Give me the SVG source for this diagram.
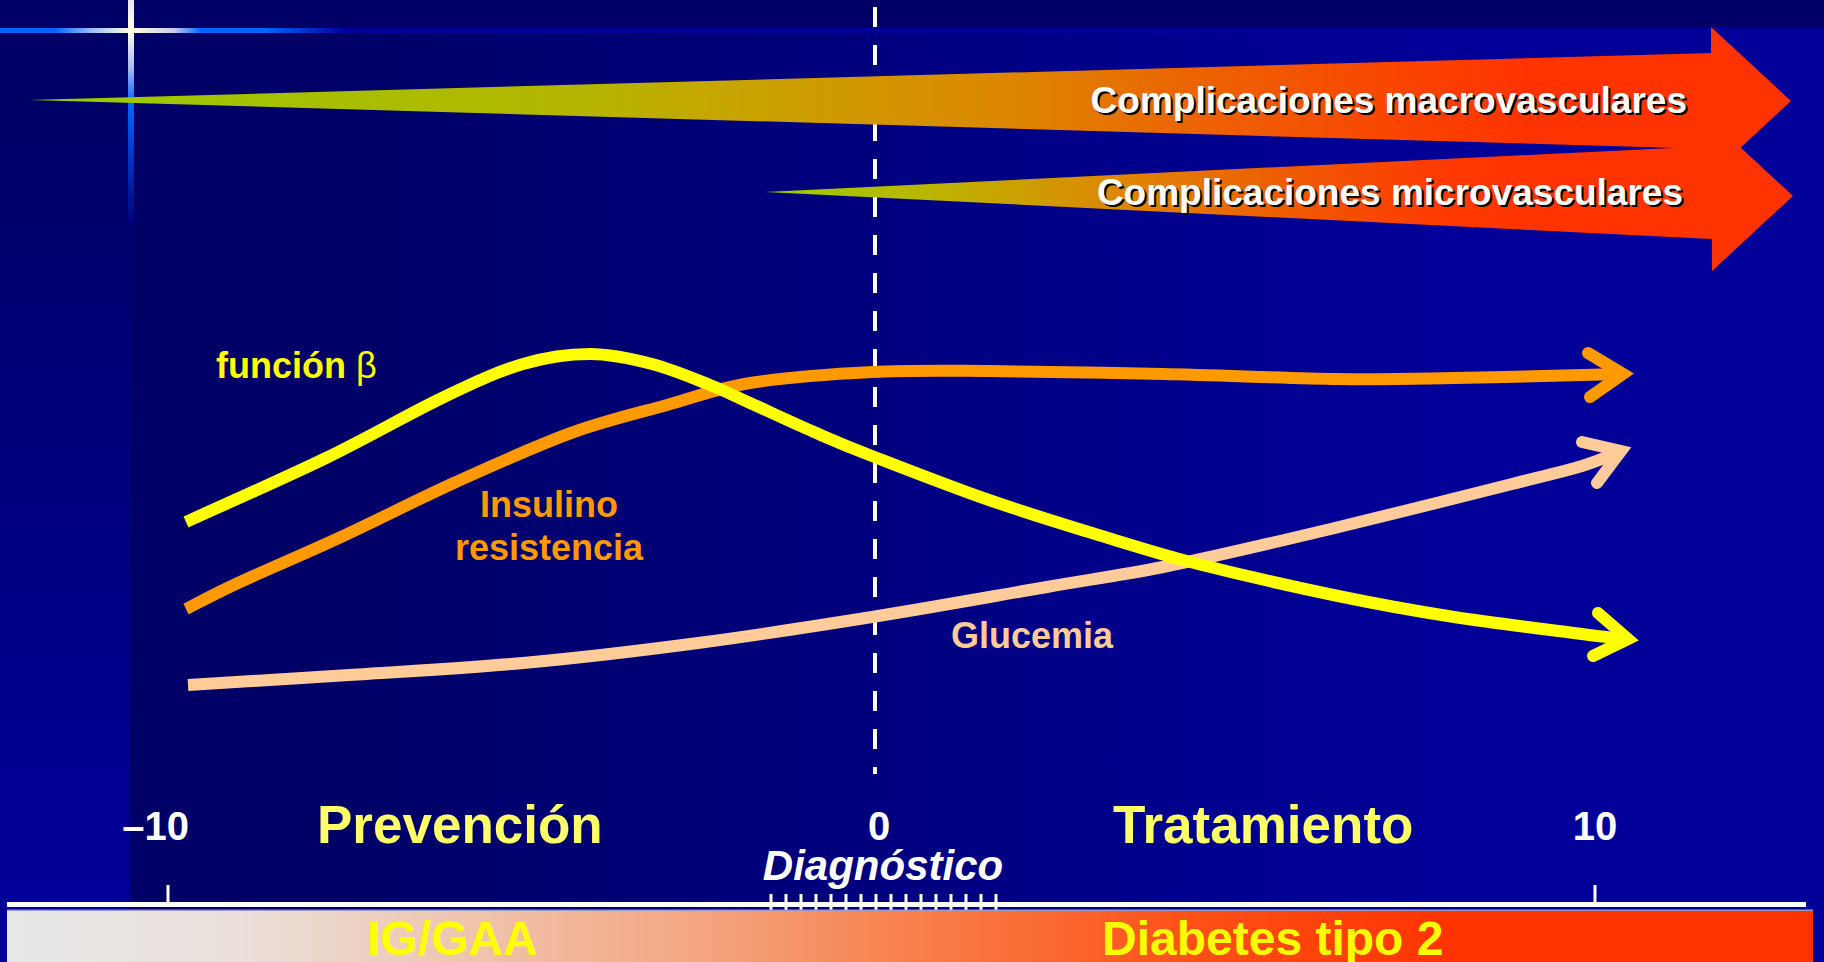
<svg xmlns="http://www.w3.org/2000/svg" width="1824" height="962" viewBox="0 0 1824 962">
<defs>
<linearGradient id="gMain" gradientUnits="userSpaceOnUse" x1="130" y1="0" x2="1450" y2="0">
<stop offset="0" stop-color="#000066"/><stop offset="0.15" stop-color="#000066"/><stop offset="1" stop-color="#000099"/>
</linearGradient>
<linearGradient id="gLeft" gradientUnits="userSpaceOnUse" x1="0" y1="100" x2="0" y2="900">
<stop offset="0" stop-color="#000066"/><stop offset="1" stop-color="#000099"/>
</linearGradient>
<linearGradient id="gHLine" gradientUnits="userSpaceOnUse" x1="0" y1="0" x2="1824" y2="0">
<stop offset="0" stop-color="#0066ff"/><stop offset="0.03" stop-color="#0066ff"/><stop offset="0.05" stop-color="#99bbff"/><stop offset="0.0715" stop-color="#ffffdd"/><stop offset="0.095" stop-color="#ccccee"/><stop offset="0.11" stop-color="#0066ff"/><stop offset="0.145" stop-color="#0066ff"/><stop offset="0.19" stop-color="#000099"/><stop offset="1" stop-color="#000099"/>
</linearGradient>
<linearGradient id="gVLine" gradientUnits="userSpaceOnUse" x1="0" y1="0" x2="0" y2="225">
<stop offset="0" stop-color="#e8e8ee"/><stop offset="0.135" stop-color="#ffffdd"/><stop offset="0.3" stop-color="#aabbf0"/><stop offset="0.45" stop-color="#0066ff"/><stop offset="0.55" stop-color="#0055ee"/><stop offset="0.8" stop-color="#0022aa"/><stop offset="1" stop-color="#000077"/>
</linearGradient>
<linearGradient id="gMacro" gradientUnits="userSpaceOnUse" x1="29" y1="0" x2="1791" y2="0">
<stop offset="0" stop-color="#99cc00"/><stop offset="0.32" stop-color="#b4b400"/><stop offset="0.38" stop-color="#c4a800"/><stop offset="0.55" stop-color="#dc8800"/><stop offset="0.66" stop-color="#ec6400"/><stop offset="0.78" stop-color="#fa4400"/><stop offset="0.85" stop-color="#ff3300"/><stop offset="1" stop-color="#ff3300"/>
</linearGradient>
<linearGradient id="gMicro" gradientUnits="userSpaceOnUse" x1="765" y1="0" x2="1793" y2="0">
<stop offset="0" stop-color="#99cc00"/><stop offset="0.146" stop-color="#b8b800"/><stop offset="0.355" stop-color="#e08400"/><stop offset="0.52" stop-color="#f05800"/><stop offset="0.666" stop-color="#ff3800"/><stop offset="0.76" stop-color="#ff3300"/><stop offset="1" stop-color="#ff3300"/>
</linearGradient>
<linearGradient id="gBar" gradientUnits="userSpaceOnUse" x1="7" y1="0" x2="1813" y2="0">
<stop offset="0" stop-color="#e8e8e8"/><stop offset="0.13" stop-color="#eadfda"/><stop offset="0.25" stop-color="#efc6b0"/><stop offset="0.38" stop-color="#f4a682"/><stop offset="0.5" stop-color="#f8804c"/><stop offset="0.65" stop-color="#fd5218"/><stop offset="0.8" stop-color="#ff3300"/><stop offset="1" stop-color="#ff3300"/>
</linearGradient>
<style>
.t{font-family:"Liberation Sans",Arial,sans-serif;font-weight:bold}
.sh{fill:#000000}
.wt{fill:#ffffff}
.curve{fill:none;stroke-width:12;stroke-linecap:butt;stroke-linejoin:round}
.head{fill:none;stroke-width:12;stroke-linecap:round;stroke-linejoin:miter;stroke-miterlimit:6}
.tick{fill:#ffffff}
</style>
</defs>

<g id="background">
<rect x="0" y="0" width="1824" height="962" fill="#000099"/>
<rect x="130" y="0" width="1694" height="962" fill="url(#gMain)"/>
<rect x="0" y="32" width="130" height="878" fill="url(#gLeft)"/>
<rect x="0" y="0" width="1824" height="30" fill="#000066"/>
<rect x="0" y="28" width="1824" height="5" fill="url(#gHLine)"/>
<rect x="128" y="0" width="6" height="225" fill="url(#gVLine)"/>
</g>

<g id="diagnosis-line">
<line x1="875" y1="7" x2="875" y2="774" stroke="#ffffff" stroke-width="4" stroke-dasharray="20 18"/>
</g>

<g id="arrow-micro">
<path d="M765,192 L1712,146 L1712,121 L1793,196 L1712,271 L1712,239 Z" fill="url(#gMicro)"/>
<text class="t sh" x="1685" y="207" font-size="37" text-anchor="end">Complicaciones microvasculares</text>
<text class="t wt" x="1683" y="205" font-size="37" text-anchor="end">Complicaciones microvasculares</text>
</g>

<g id="arrow-macro">
<path d="M29,100 L1711,53 L1711,27 L1791,101 L1711,175 L1711,149 Z" fill="url(#gMacro)"/>
<text class="t sh" x="1689" y="115" font-size="37" text-anchor="end">Complicaciones macrovasculares</text>
<text class="t wt" x="1687" y="113" font-size="37" text-anchor="end">Complicaciones macrovasculares</text>
</g>

<g id="connectors">
<g id="curve-glucemia" stroke="#ffcc99">
<path class="curve" d="M188,685 C214.8,683.3 293.2,678.7 349,675 C404.8,671.3 464.8,668.3 523,663 C581.2,657.7 639.8,650.7 698,643 C756.2,635.3 813.8,626.3 872,617 C930.2,607.7 998.5,595.3 1047,587 C1095.5,578.7 1124.2,574.7 1163,567 C1201.8,559.3 1241.2,550 1280,541 C1318.8,532 1357.3,522.5 1396,513 C1434.7,503.5 1481,491.8 1512,484 C1543,476.2 1563.7,471.5 1582,466 C1600.3,460.5 1615.3,453.3 1621,451"/>
<path class="head" d="M1582,442 L1621,451 L1597,483"/>
</g>
<g id="curve-insulino" stroke="#ff9900">
<path class="curve" d="M186,609 C194.7,604.7 212.2,595 238,583 C263.8,571 304.7,553.8 341,537 C377.3,520.2 417.7,499.3 456,482 C494.3,464.7 535.8,445.8 571,433 C606.2,420.2 637.2,413.3 667,405 C696.8,396.7 715.8,388.5 750,383 C784.2,377.5 832.2,374 872,372 C911.8,370 940.5,370.7 989,371 C1037.5,371.3 1104.8,372.7 1163,374 C1221.2,375.3 1289.5,378.3 1338,379 C1386.5,379.7 1413.3,378.7 1454,378 C1494.7,377.3 1553.7,375.7 1582,375 C1610.3,374.3 1617,374.2 1623,374"/>
<path class="head" d="M1588,353 L1623,374 L1590,397"/>
</g>
<g id="curve-funcion-beta" stroke="#ffff00">
<path class="curve" d="M186,522 C209.3,511.3 283.3,478.7 326,458 C368.7,437.3 409.2,413.7 442,398 C474.8,382.3 498.3,371.3 523,364 C547.7,356.7 568.5,354 590,354 C611.5,354 632,358.8 652,364 C672,369.2 693.7,378.5 710,385 C726.3,391.5 732.7,395.2 750,403 C767.3,410.8 793.7,423.2 814,432 C834.3,440.8 842.8,444.7 872,456 C901.2,467.3 950.2,486.5 989,500 C1027.8,513.5 1070.2,526.3 1105,537 C1139.8,547.7 1159.2,554.2 1198,564 C1236.8,573.8 1295.3,587.2 1338,596 C1380.7,604.8 1413.3,610.7 1454,617 C1494.7,623.3 1552.7,630.2 1582,634 C1611.3,637.8 1622,639 1628,639"/>
<path class="head" d="M1598,613 L1628,639 L1593,656"/>
</g>
</g>

<g id="label-funcion-beta">
<text class="t" x="216" y="378" font-size="36" fill="#ffff00">función <tspan font-weight="normal">β</tspan></text>
</g>
<g id="label-insulino">
<text class="t" x="549" y="517" font-size="36" fill="#ff9900" text-anchor="middle">Insulino</text>
<text class="t" x="549" y="560" font-size="36" fill="#ff9900" text-anchor="middle">resistencia</text>
</g>
<g id="label-glucemia">
<text class="t" x="951" y="648" font-size="36" fill="#ffcc99">Glucemia</text>
</g>

<g id="axis">
<rect x="7" y="902" width="1799" height="5" fill="#ffffff"/>
<rect class="tick" x="166.5" y="885" width="3" height="17"/>
<rect class="tick" x="1593.5" y="885" width="3" height="17"/>
<g id="diagnosis-ticks" fill="#ffffff">
<rect x="769.5" y="894" width="3" height="18"/><rect x="784.5" y="894" width="3" height="18"/><rect x="799.5" y="894" width="3" height="18"/><rect x="814.5" y="894" width="3" height="18"/>
<rect x="829.5" y="894" width="3" height="18"/><rect x="844.5" y="894" width="3" height="18"/><rect x="859.5" y="894" width="3" height="18"/><rect x="874.5" y="894" width="3" height="18"/>
<rect x="889.5" y="894" width="3" height="18"/><rect x="904.5" y="894" width="3" height="18"/><rect x="919.5" y="894" width="3" height="18"/><rect x="934.5" y="894" width="3" height="18"/>
<rect x="949.5" y="894" width="3" height="18"/><rect x="964.5" y="894" width="3" height="18"/><rect x="979.5" y="894" width="3" height="18"/><rect x="994.5" y="894" width="3" height="18"/>
</g>
<text class="t" x="189" y="840" font-size="40" fill="#ffffff" text-anchor="end">–10</text>
<text class="t" x="879" y="840" font-size="40" fill="#ffffff" text-anchor="middle">0</text>
<text class="t" x="1595" y="840" font-size="40" fill="#ffffff" text-anchor="middle">10</text>
<text class="t" x="883" y="880" font-size="42" fill="#ffffff" font-style="italic" text-anchor="middle">Diagnóstico</text>
</g>

<g id="label-prevencion">
<text class="t" x="317" y="843" font-size="53" fill="#ffff66">Prevención</text>
</g>
<g id="label-tratamiento">
<text class="t" x="1113" y="843" font-size="53" fill="#ffff66">Tratamiento</text>
</g>

<g id="stage-bar">
<rect x="7" y="910" width="1806" height="52" fill="url(#gBar)"/>
<rect x="7" y="909.5" width="1806" height="1.5" fill="#9999cc"/>
<text class="t" x="367" y="955" font-size="48" fill="#ffff00">IG/GAA</text>
<text class="t" x="1102" y="955" font-size="48" fill="#ffff00">Diabetes tipo 2</text>
</g>
</svg>
